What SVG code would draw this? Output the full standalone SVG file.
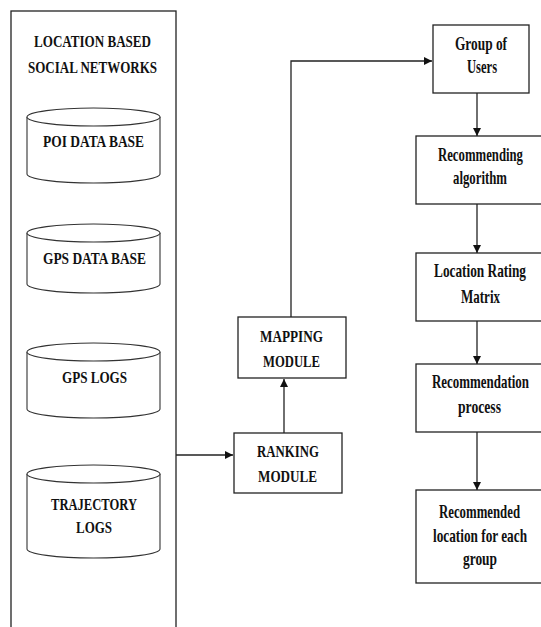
<svg xmlns="http://www.w3.org/2000/svg" width="541" height="627" viewBox="0 0 541 627">
<style>
.box{fill:#fff;stroke:#222;stroke-width:1.3}
.cyl{fill:#fff;stroke:#333;stroke-width:1.1}
.ln{fill:none;stroke:#222;stroke-width:1.3}
text{font-family:"Liberation Serif","Times New Roman",serif;font-weight:bold;fill:#111;text-anchor:middle}
.l{font-size:16px}
.m{font-size:17px}
.r{font-size:18px}
</style>
<defs>
<marker id="ah" viewBox="0 0 10 10" refX="10" refY="5" markerWidth="8" markerHeight="8" markerUnits="userSpaceOnUse" orient="auto">
<path d="M0,0 L10,5 L0,10 Z" fill="#111"/>
</marker>
</defs>
<rect width="541" height="627" fill="#fff"/>

<g id="lbsn">
<rect class="box" x="11" y="11" width="165" height="640"/>
<text class="l" transform="translate(92.5,47) scale(0.75,1)" textLength="156" lengthAdjust="spacingAndGlyphs">LOCATION BASED</text>
<text class="l" transform="translate(92.5,73) scale(0.75,1)" textLength="172" lengthAdjust="spacingAndGlyphs">SOCIAL NETWORKS</text>
</g>

<g id="poi">
<path class="cyl" d="M27,117 A66.5,9 0 0 1 160,117 L160,174 A66.5,9 0 0 1 27,174 Z"/>
<path class="cyl" d="M27,117 A66.5,9 0 0 0 160,117"/>
<text class="l" transform="translate(93.5,147) scale(0.75,1)" textLength="134.7" lengthAdjust="spacingAndGlyphs">POI DATA BASE</text>
</g>

<g id="gpsdb">
<path class="cyl" d="M27,233 A66.5,9 0 0 1 160,233 L160,284 A66.5,9 0 0 1 27,284 Z"/>
<path class="cyl" d="M27,233 A66.5,9 0 0 0 160,233"/>
<text class="l" transform="translate(94.5,264) scale(0.75,1)" textLength="137.3" lengthAdjust="spacingAndGlyphs">GPS DATA BASE</text>
</g>

<g id="gpslogs">
<path class="cyl" d="M27,352 A66.5,9 0 0 1 160,352 L160,409 A66.5,9 0 0 1 27,409 Z"/>
<path class="cyl" d="M27,352 A66.5,9 0 0 0 160,352"/>
<text class="l" transform="translate(94.5,383) scale(0.75,1)" textLength="86.7" lengthAdjust="spacingAndGlyphs">GPS LOGS</text>
</g>

<g id="traj">
<path class="cyl" d="M27,474 A66.5,9 0 0 1 160,474 L160,549 A66.5,9 0 0 1 27,549 Z"/>
<path class="cyl" d="M27,474 A66.5,9 0 0 0 160,474"/>
<text class="l" transform="translate(94,510) scale(0.75,1)" textLength="114.7" lengthAdjust="spacingAndGlyphs">TRAJECTORY</text>
<text class="l" transform="translate(94,533) scale(0.75,1)" textLength="48" lengthAdjust="spacingAndGlyphs">LOGS</text>
</g>

<g id="ranking">
<rect class="box" x="234" y="433" width="108" height="60"/>
<text class="m" transform="translate(288,457) scale(0.77,1)" textLength="80.5" lengthAdjust="spacingAndGlyphs">RANKING</text>
<text class="m" transform="translate(287.5,482) scale(0.77,1)" textLength="76.6" lengthAdjust="spacingAndGlyphs">MODULE</text>
</g>

<g id="mapping">
<rect class="box" x="238" y="317" width="108" height="61"/>
<text class="m" transform="translate(291.5,342) scale(0.77,1)" textLength="81.8" lengthAdjust="spacingAndGlyphs">MAPPING</text>
<text class="m" transform="translate(291.5,367) scale(0.77,1)" textLength="74" lengthAdjust="spacingAndGlyphs">MODULE</text>
</g>

<g id="group">
<rect class="box" x="433" y="25" width="96" height="68"/>
<text class="r" transform="translate(481,50) scale(0.7,1)" textLength="74.3" lengthAdjust="spacingAndGlyphs">Group of</text>
<text class="r" transform="translate(482,73) scale(0.7,1)" textLength="42.9" lengthAdjust="spacingAndGlyphs">Users</text>
</g>

<g id="algo">
<rect class="box" x="416" y="136" width="128" height="68"/>
<text class="r" transform="translate(480.5,161) scale(0.7,1)" textLength="121.4" lengthAdjust="spacingAndGlyphs">Recommending</text>
<text class="r" transform="translate(480,184) scale(0.7,1)" textLength="77.1" lengthAdjust="spacingAndGlyphs">algorithm</text>
</g>

<g id="matrix">
<rect class="box" x="416" y="253" width="128" height="68"/>
<text class="r" transform="translate(480,277) scale(0.7,1)" textLength="131.4" lengthAdjust="spacingAndGlyphs">Location Rating</text>
<text class="r" transform="translate(480.5,303) scale(0.7,1)" textLength="55.7" lengthAdjust="spacingAndGlyphs">Matrix</text>
</g>

<g id="process">
<rect class="box" x="416" y="364" width="128" height="68"/>
<text class="r" transform="translate(480.5,388) scale(0.7,1)" textLength="138.6" lengthAdjust="spacingAndGlyphs">Recommendation</text>
<text class="r" transform="translate(479.5,413) scale(0.7,1)" textLength="61.4" lengthAdjust="spacingAndGlyphs">process</text>
</g>

<g id="result">
<rect class="box" x="416" y="490" width="128" height="93"/>
<text class="r" transform="translate(479.5,518) scale(0.7,1)" textLength="115.7" lengthAdjust="spacingAndGlyphs">Recommended</text>
<text class="r" transform="translate(480,542) scale(0.7,1)" textLength="134.3" lengthAdjust="spacingAndGlyphs">location for each</text>
<text class="r" transform="translate(480,565) scale(0.7,1)" textLength="48.6" lengthAdjust="spacingAndGlyphs">group</text>
</g>

<g id="connectors">
<line class="ln" x1="176" y1="455" x2="233" y2="455" marker-end="url(#ah)"/>
<line class="ln" x1="284" y1="433" x2="284" y2="379" marker-end="url(#ah)"/>
<polyline class="ln" points="291,317 291,61 432,61" marker-end="url(#ah)"/>
<line class="ln" x1="477" y1="93" x2="477" y2="136" marker-end="url(#ah)"/>
<line class="ln" x1="477" y1="204" x2="477" y2="253" marker-end="url(#ah)"/>
<line class="ln" x1="477" y1="321" x2="477" y2="364" marker-end="url(#ah)"/>
<line class="ln" x1="477" y1="432" x2="477" y2="490" marker-end="url(#ah)"/>
</g>
</svg>
